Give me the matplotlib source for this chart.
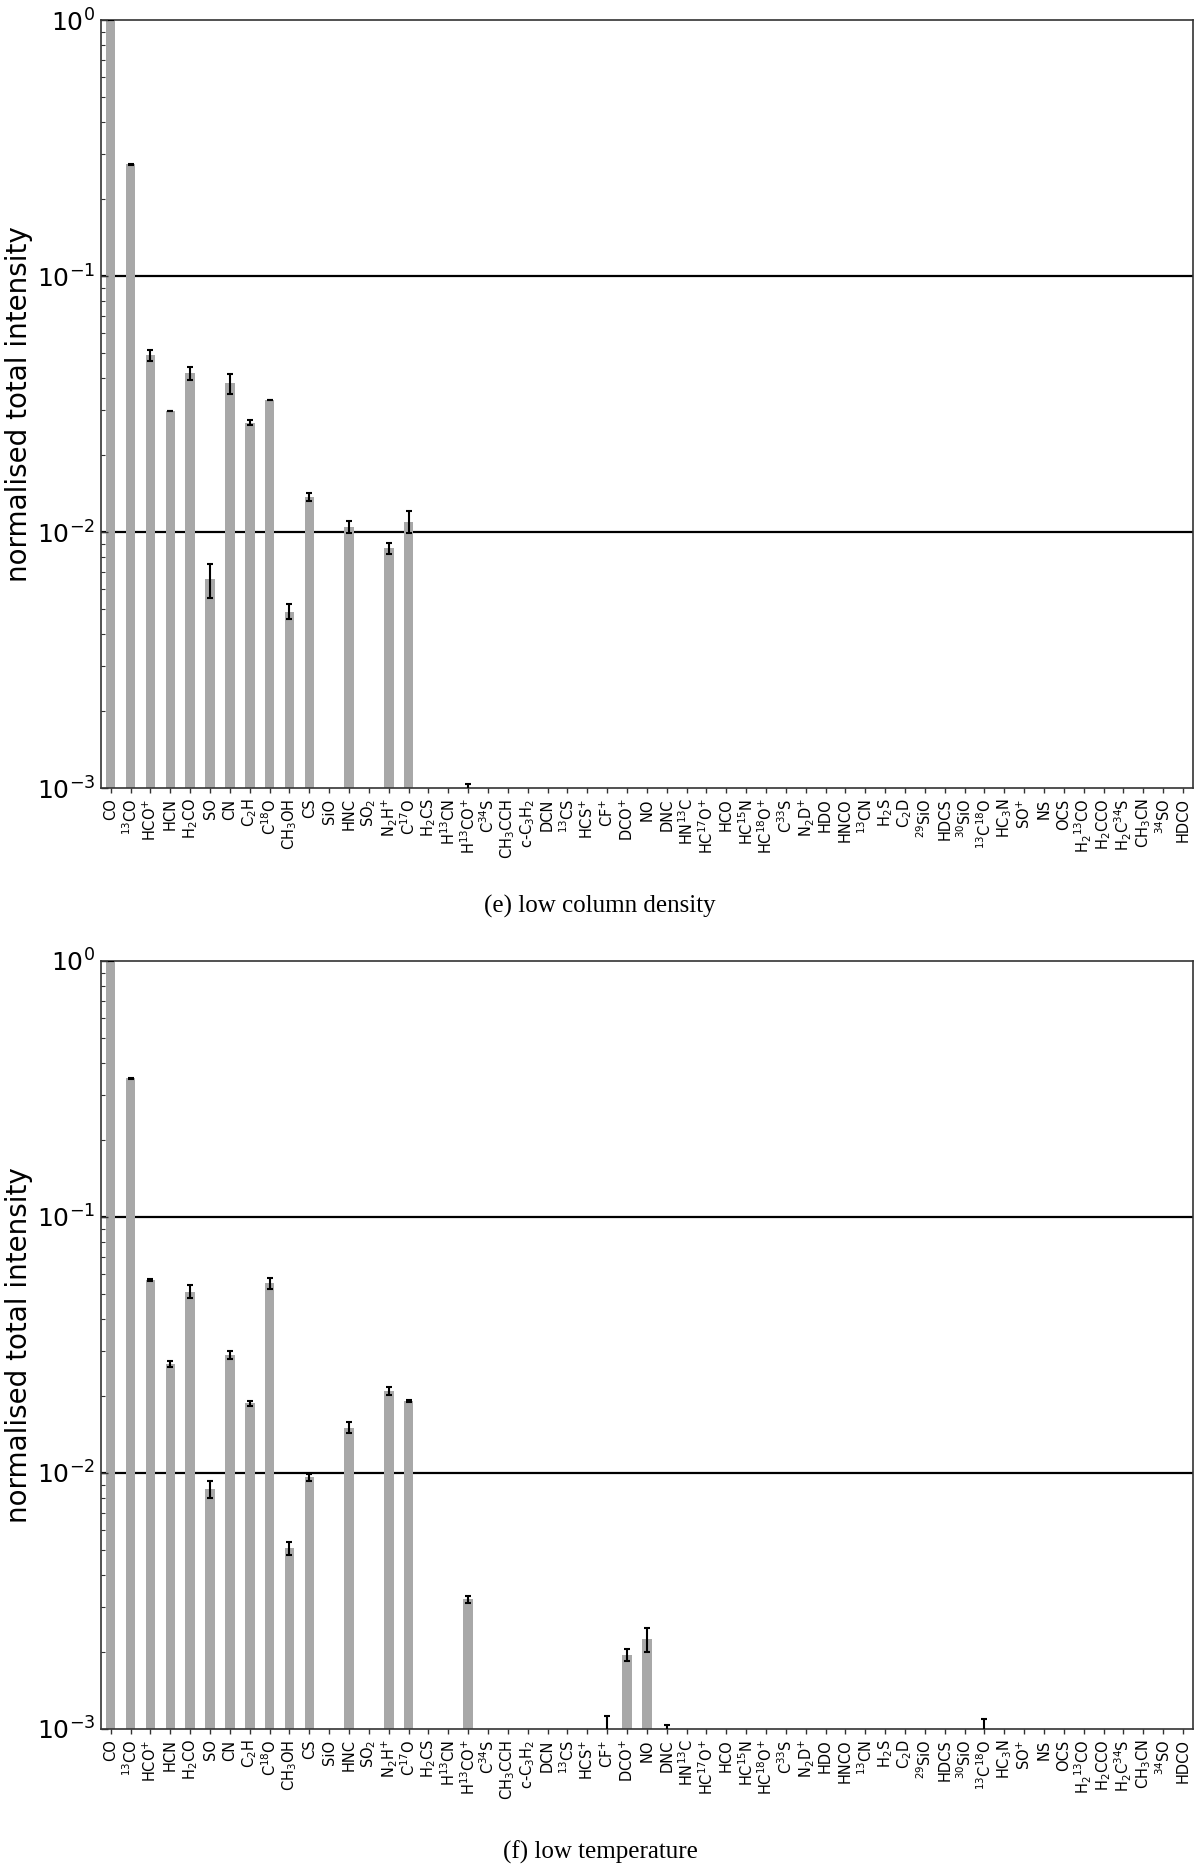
import numpy as np
import matplotlib
matplotlib.use("Agg")
import matplotlib.pyplot as plt

species = ['CO', r'$^{13}$CO', r'HCO$^{+}$', 'HCN', r'H$_2$CO', 'SO', 'CN', r'C$_2$H',
           r'C$^{18}$O', r'CH$_3$OH', 'CS', 'SiO', 'HNC', r'SO$_2$', r'N$_2$H$^{+}$',
           r'C$^{17}$O', r'H$_2$CS', r'H$^{13}$CN', r'H$^{13}$CO$^{+}$', r'C$^{34}$S',
           r'CH$_3$CCH', r'c-C$_3$H$_2$', 'DCN', r'$^{13}$CS', r'HCS$^{+}$', r'CF$^{+}$',
           r'DCO$^{+}$', 'NO', 'DNC', r'HN$^{13}$C', r'HC$^{17}$O$^{+}$', 'HCO',
           r'HC$^{15}$N', r'HC$^{18}$O$^{+}$', r'C$^{33}$S', r'N$_2$D$^{+}$', 'HDO', 'HNCO',
           r'$^{13}$CN', r'H$_2$S', r'C$_2$D', r'$^{29}$SiO', 'HDCS', r'$^{30}$SiO',
           r'$^{13}$C$^{18}$O', r'HC$_3$N', r'SO$^{+}$', 'NS', 'OCS', r'H$_2{}^{13}$CO',
           r'H$_2$CCO', r'H$_2$C$^{34}$S', r'CH$_3$CN', r'$^{34}$SO', 'HDCO']

# (e) low column density
val_e = [1.0, 0.273, 0.0491, 0.0297, 0.0417, 0.00653, 0.0381, 0.0267,
         0.0328, 0.00489, 0.01367, 0.0, 0.0105, 0.0, 0.00863,
         0.01097, 0.0, 0.0, 0.0006, 0.0,
         0.0, 0.0, 0.0, 0.0, 0.0, 0.0,
         0.0, 0.0, 0.0, 0.0, 0.0, 0.0,
         0.0, 0.0, 0.0, 0.0, 0.0, 0.0,
         0.0, 0.0, 0.0, 0.0, 0.0, 0.0,
         0.0, 0.0, 0.0, 0.0, 0.0, 0.0,
         0.0, 0.0, 0.0, 0.0, 0.0]
err_e = [0.002, 0.001, 0.0025, 0.0001, 0.0025, 0.001, 0.0034, 0.0006,
         0.0001, 0.00032, 0.0005, 0.0, 0.00057, 0.0, 0.00045,
         0.0011, 0.0, 0.0, 0.00044, 0.0,
         0.0, 0.0, 0.0, 0.0, 0.0, 0.0,
         0.0, 0.0, 0.0, 0.0, 0.0, 0.0,
         0.0, 0.0, 0.0, 0.0, 0.0, 0.0,
         0.0, 0.0, 0.0, 0.0, 0.0, 0.0,
         0.0, 0.0, 0.0, 0.0, 0.0, 0.0,
         0.0, 0.0, 0.0, 0.0, 0.0]

# (f) low temperature
val_f = [1.0, 0.348, 0.0567, 0.0266, 0.0511, 0.00863, 0.0289, 0.0187,
         0.0551, 0.00508, 0.00962, 0.0, 0.01503, 0.0, 0.0209,
         0.0191, 0.0, 0.0, 0.00321, 0.0,
         0.0, 0.0, 0.0, 0.0, 0.0, 0.0006,
         0.00195, 0.00224, 0.0006, 0.0, 0.0, 0.0,
         0.0, 0.0, 0.0, 0.0, 0.0, 0.0,
         0.0, 0.0, 0.0, 0.0, 0.0, 0.0,
         0.0006, 0.0, 0.0, 0.0, 0.0, 0.0,
         0.0, 0.0, 0.0, 0.0, 0.0]
err_f = [0.002, 0.001, 0.0003, 0.0007, 0.003, 0.00065, 0.0011, 0.00043,
         0.0027, 0.0003, 0.00032, 0.0, 0.00074, 0.0, 0.0008,
         0.0002, 0.0, 0.0, 0.0001, 0.0,
         0.0, 0.0, 0.0, 0.0, 0.0, 0.00052,
         0.0001, 0.00024, 0.00044, 0.0, 0.0, 0.0,
         0.0, 0.0, 0.0, 0.0, 0.0, 0.0,
         0.0, 0.0, 0.0, 0.0, 0.0, 0.0,
         0.00049, 0.0, 0.0, 0.0, 0.0, 0.0,
         0.0, 0.0, 0.0, 0.0, 0.0]

captions = ['(e) low column density', '(f) low temperature']

W, H = 1200, 1866
fig = plt.figure(figsize=(W / 100, H / 100), dpi=100)

ax_left = 100.8 / W
ax_w = (1193.0 - 100.8) / W
ax_h = 768.0 / H
bottoms = [1 - 788.0 / H, 1 - 1729.0 / H]
cap_y = [1 - 906.0 / H, 1 - 1852.0 / H]


def panel(ax, vals, errs):
    vals = np.asarray(vals, float)
    errs = np.asarray(errs, float)
    x = np.arange(len(species))
    ax.set_yscale('log')
    for yv in (1e-1, 1e-2):
        ax.axhline(yv, color='black', lw=1.6, zorder=0.5)
    ax.bar(x, vals, width=0.48, color='#a8a8a8', edgecolor='none', zorder=1, log=True)
    m = errs > 0
    ax.errorbar(x[m], vals[m], yerr=errs[m], fmt='none', ecolor='black',
                elinewidth=1.5, capsize=2.5, capthick=1.5, zorder=3)
    ax.set_xlim(-0.5, len(species) - 0.5)
    ax.set_ylim(1e-3, 1e0)
    ax.set_xticks(x)
    ax.set_xticklabels(species, rotation=90, fontsize=10.5)
    ax.tick_params(axis='x', direction='out', length=3.5, width=1.0, color='#333333', pad=4)
    ax.tick_params(axis='y', which='both', direction='in', right=False, color='#333333')
    ax.tick_params(axis='y', which='major', length=5, width=1.0, labelsize=18, pad=4)
    ax.tick_params(axis='y', which='minor', length=3, width=0.8)
    for s in ax.spines.values():
        s.set_color('#333333')
        s.set_linewidth(1.2)
    ax.set_ylabel('normalised total intensity', fontsize=20)
    ax.yaxis.set_label_coords(-0.062, 0.5)


for i, (vals, errs) in enumerate([(val_e, err_e), (val_f, err_f)]):
    ax = fig.add_axes([ax_left, bottoms[i], ax_w, ax_h])
    panel(ax, vals, errs)
    fig.text(0.5, cap_y[i], captions[i], ha='center', va='center',
             fontsize=18, family='Liberation Serif')

fig.savefig('out.png', dpi=100)
